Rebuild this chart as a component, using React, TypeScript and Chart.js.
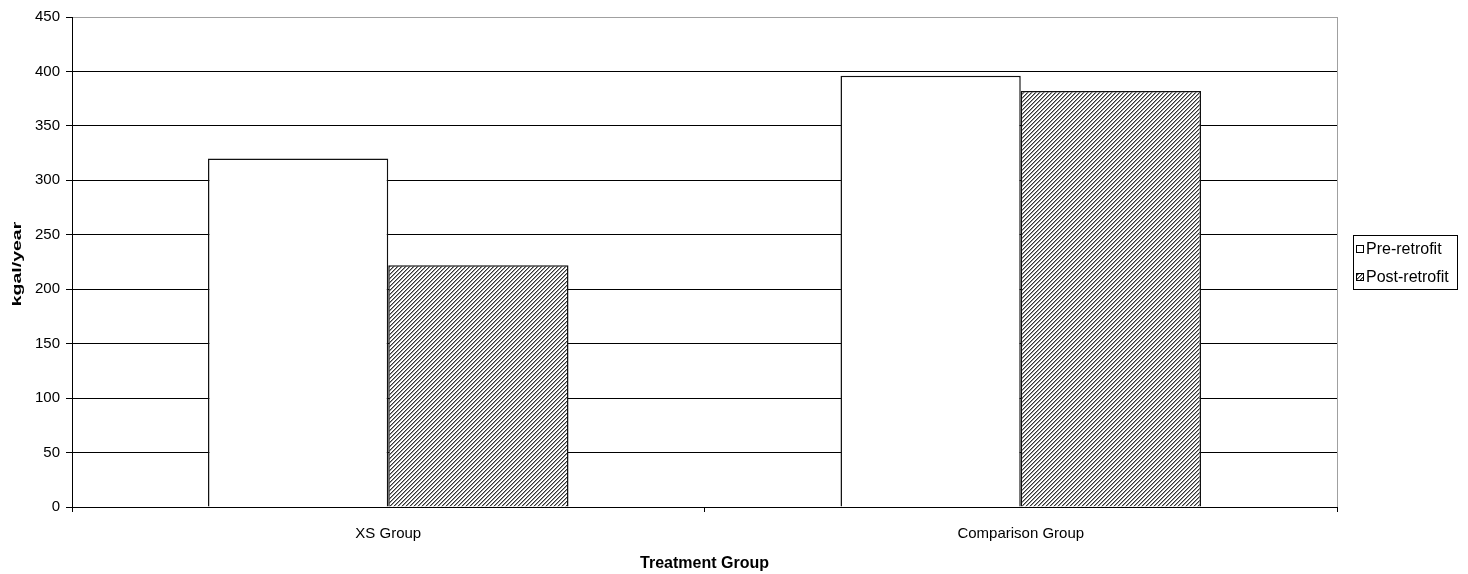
import React, { useEffect, useRef } from "react";
import { Chart, registerables } from "chart.js";

Chart.register(...registerables);

const categories = ["XS Group", "Comparison Group"];
const preRetrofit = [320, 396];
const postRetrofit = [222, 382];
const seriesLabels = ["Pre-retrofit", "Post-retrofit"];
const yTicks = [0, 50, 100, 150, 200, 250, 300, 350, 400, 450];
const yTitle = "kgal/year";
const xTitle = "Treatment Group";

const FONT = "'Liberation Sans', Arial, sans-serif";

function makeHatch(ctx: CanvasRenderingContext2D): CanvasPattern | string {
  const c = document.createElement("canvas");
  c.width = 4;
  c.height = 4;
  const g = c.getContext("2d");
  if (!g) return "#888";
  g.fillStyle = "#ffffff";
  g.fillRect(0, 0, 4, 4);
  g.fillStyle = "#333333";
  for (let i = 0; i < 4; i++) {
    g.fillRect(i, 3 - i, 1, 1);
  }
  g.fillStyle = "#999999";
  for (let i = 0; i < 4; i++) {
    g.fillRect((i + 1) % 4, 3 - i, 1, 1);
  }
  return ctx.createPattern(c, "repeat") || "#888";
}

export default function App() {
  const ref = useRef<HTMLCanvasElement | null>(null);

  useEffect(() => {
    document.body.style.margin = "0";
    const canvas = ref.current;
    if (!canvas) return;
    const ctx = canvas.getContext("2d");
    if (!ctx) return;
    const hatch = makeHatch(ctx);

    const extras = {
      id: "extras",
      afterDraw(chart: any) {
        const c = chart.ctx as CanvasRenderingContext2D;
        const a = chart.chartArea;
        c.save();
        // right border of plot area
        c.strokeStyle = "#a0a0a0";
        c.lineWidth = 1;
        c.beginPath();
        c.moveTo(Math.round(a.right) + 0.5, a.top);
        c.lineTo(Math.round(a.right) + 0.5, a.bottom);
        c.stroke();
        // y axis title (stretched like the original)
        c.save();
        c.translate(17, (a.top + a.bottom) / 2 + 2);
        c.rotate(-Math.PI / 2);
        c.scale(1.5, 1);
        c.font = `bold 13px ${FONT}`;
        c.fillStyle = "#000";
        c.textAlign = "center";
        c.textBaseline = "middle";
        c.fillText(yTitle, 0, 0);
        c.restore();
        // legend
        const lx = 1353.5, ly = 235.5, lw = 104, lh = 54;
        c.strokeStyle = "#000";
        c.lineWidth = 1;
        c.fillStyle = "#fff";
        c.fillRect(lx, ly, lw, lh);
        c.strokeRect(lx, ly, lw, lh);
        c.font = `16px ${FONT}`;
        c.textBaseline = "middle";
        c.textAlign = "left";
        const fills: (string | CanvasPattern)[] = ["#ffffff", hatch];
        const ys = [249, 277];
        seriesLabels.forEach((lab, i) => {
          const sy = ys[i];
          c.fillStyle = fills[i] as any;
          c.fillRect(1356.5, sy - 3.5, 7, 7);
          c.strokeStyle = "#000";
          c.strokeRect(1356.5, sy - 3.5, 7, 7);
          c.fillStyle = "#000";
          c.fillText(lab, 1366, sy + 1);
        });
        c.restore();
      },
    };

    const chart = new Chart(ctx, {
      type: "bar",
      data: {
        labels: categories,
        datasets: [
          {
            label: seriesLabels[0],
            data: preRetrofit,
            backgroundColor: "#ffffff",
            borderColor: "#111111",
            borderWidth: 1.5,
            categoryPercentage: 0.57,
            barPercentage: 1,
          },
          {
            label: seriesLabels[1],
            data: postRetrofit,
            backgroundColor: hatch as any,
            borderColor: "#111111",
            borderWidth: 1.5,
            categoryPercentage: 0.57,
            barPercentage: 1,
          },
        ],
      },
      options: {
        responsive: false,
        animation: false,
        devicePixelRatio: 1,
        layout: { padding: { left: 0, top: 17, right: 131, bottom: 0 } },
        plugins: {
          legend: { display: false },
          tooltip: { enabled: false },
        },
        scales: {
          x: {
            type: "category",
            offset: true,
            grid: {
              offset: true,
              drawOnChartArea: false,
              drawTicks: true,
              tickLength: 5,
              color: "#000",
            },
            border: { color: "#000" },
            ticks: {
              color: "#000",
              padding: 13,
              maxRotation: 0,
              font: { family: FONT, size: 15 },
            },
            title: {
              display: true,
              text: xTitle,
              color: "#000",
              font: { family: FONT, size: 16, weight: "bold" },
              padding: { top: 0, bottom: 1 },
            },
            afterFit(scale: any) {
              scale.height = 67;
            },
          },
          y: {
            min: 0,
            max: 450,
            afterBuildTicks(scale: any) {
              scale.ticks = yTicks.map((v) => ({ value: v }));
            },
            grid: {
              color: (c: any) => (c.tick && c.tick.value === 450 ? "#a0a0a0" : "#000"),
              tickColor: "#000",
              tickLength: 6,
              lineWidth: 1,
            },
            border: { color: "#000" },
            ticks: {
              color: "#000",
              padding: 6,
              font: { family: FONT, size: 15 },
            },
            title: { display: false },
            afterFit(scale: any) {
              scale.width = 72;
            },
          },
        },
      },
      plugins: [extras],
    });

    return () => chart.destroy();
  }, []);

  return (
    <div style={{ position: "absolute", left: 0, top: 0, width: 1468, height: 574 }}>
      <canvas ref={ref} width={1468} height={574} />
    </div>
  );
}
